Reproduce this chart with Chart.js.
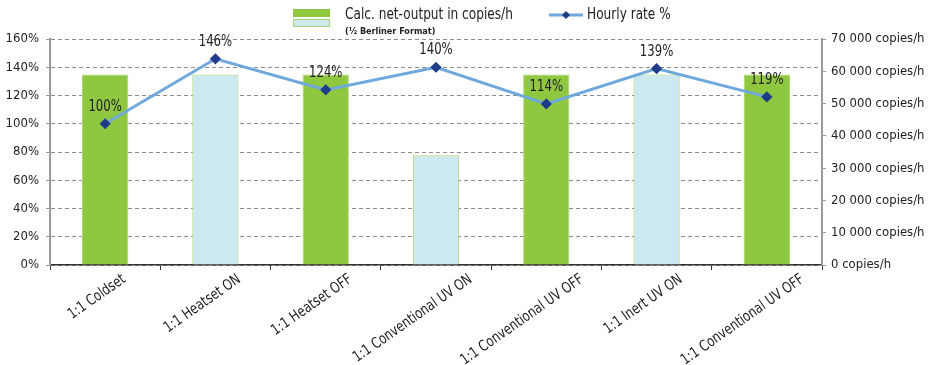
<!DOCTYPE html>
<html>
<head>
<meta charset="utf-8">
<script src="https://cdn.jsdelivr.net/npm/chart.js@4.4.0/dist/chart.umd.min.js"></script>
<style>
  html, body { margin: 0; padding: 0; background: #fff; }
  #wrap { width: 936px; height: 365px; }
</style>
</head>
<body>
<div id="wrap"><canvas id="myChart" width="936" height="365"></canvas></div>
<script>
// press configurations on the x axis
const categories = [
    '1:1 Coldset',
    '1:1 Heatset ON',
    '1:1 Heatset OFF',
    '1:1 Conventional UV ON',
    '1:1 Conventional UV OFF',
    '1:1 Inert UV ON',
    '1:1 Conventional UV OFF'
];
// net output per hour (right axis)
const netOutput = [59000, 59000, 59000, 34000, 59000, 59000, 59000];
// hourly rate relative to coldset (left axis)
const hourlyRate = [100, 146, 124, 140, 114, 139, 119];
const rateLabels = ['100%', '146%', '124%', '140%', '114%', '139%', '119%'];

const GREEN = '#8fc740';
const LIGHT = '#cce9ef';
const EDGE = '#a9d672';
const LINE = '#6fa8dc';
const DOT = '#1f3c88';
const FONT = "'Liberation Sans Narrow', 'DejaVu Sans Condensed', 'Arial Narrow', sans-serif";

const barColors = netOutput.map((v, i) => i % 2 === 0 ? GREEN : LIGHT);

function fmtCopies(v) {
    const s = String(v).replace(/\B(?=(\d{3})+(?!\d))/g, ' ');
    return s + ' copies/h';
}

// draws text slightly stretched vertically (condensed look)
function tallText(ctx, text, x, y) {
    ctx.save();
    ctx.translate(x, y);
    ctx.scale(1, 1.15);
    ctx.fillText(text, 0, 0);
    ctx.restore();
}

// legend drawn at the top: stacked swatches + line sample
const legendPlugin = {
    id: 'topLegend',
    afterDraw(chart) {
        const ctx = chart.ctx;
        ctx.save();
        ctx.fillStyle = GREEN;
        ctx.fillRect(293, 9, 37, 8);
        ctx.strokeStyle = EDGE;
        ctx.lineWidth = 1;
        ctx.fillStyle = LIGHT;
        ctx.fillRect(293.5, 19.5, 36, 7);
        ctx.strokeRect(293.5, 19.5, 36, 7);

        ctx.fillStyle = '#222';
        ctx.font = '13.5px ' + FONT;
        ctx.textBaseline = 'middle';
        ctx.textAlign = 'left';
        tallText(ctx, 'Calc. net-output in copies/h', 345, 15);
        ctx.font = 'bold 9px ' + FONT;
        ctx.fillText('(½ Berliner Format)', 345, 32);

        ctx.strokeStyle = LINE;
        ctx.lineWidth = 3;
        ctx.beginPath();
        ctx.moveTo(549, 15);
        ctx.lineTo(583, 15);
        ctx.stroke();
        ctx.fillStyle = DOT;
        ctx.beginPath();
        ctx.moveTo(566, 11);
        ctx.lineTo(570, 15);
        ctx.lineTo(566, 19);
        ctx.lineTo(562, 15);
        ctx.closePath();
        ctx.fill();

        ctx.fillStyle = '#222';
        ctx.font = '13.5px ' + FONT;
        tallText(ctx, 'Hourly rate %', 587, 15);
        ctx.restore();
    }
};

// percentage labels above the line points, and rotated category labels
const labelPlugin = {
    id: 'pointLabels',
    afterDatasetsDraw(chart) {
        const ctx = chart.ctx;
        const meta = chart.getDatasetMeta(1);
        ctx.save();
        ctx.fillStyle = '#222';
        ctx.font = '13px ' + FONT;
        ctx.textAlign = 'center';
        ctx.textBaseline = 'middle';
        meta.data.forEach((pt, i) => {
            tallText(ctx, rateLabels[i], pt.x, pt.y - 17);
        });

        // excel-style rotated labels: longer text slides further right
        const xScale = chart.scales.x;
        ctx.font = '13px ' + FONT;
        ctx.textAlign = 'right';
        ctx.textBaseline = 'middle';
        categories.forEach((c, i) => {
            const x = xScale.getPixelForValue(i);
            const w = ctx.measureText(c).width;
            ctx.save();
            ctx.translate(x + 5 + w * 0.21, 278);
            ctx.rotate(-35 * Math.PI / 180);
            ctx.scale(1, 1.15);
            ctx.fillText(c, 0, 0);
            ctx.restore();
        });
        ctx.restore();
    }
};

const ctx = document.getElementById('myChart').getContext('2d');

new Chart(ctx, {
    data: {
        labels: categories,
        datasets: [{
            type: 'bar',
            label: 'Calc. net-output in copies/h',
            data: netOutput,
            backgroundColor: barColors,
            borderColor: EDGE,
            borderWidth: 1,
            barPercentage: 0.42,
            categoryPercentage: 1,
            yAxisID: 'y1',
            order: 2
        }, {
            type: 'line',
            label: 'Hourly rate %',
            data: hourlyRate,
            borderColor: LINE,
            borderWidth: 3,
            pointStyle: 'rectRot',
            pointRadius: 3.5,
            pointBackgroundColor: DOT,
            pointBorderColor: DOT,
            tension: 0,
            fill: false,
            yAxisID: 'y',
            order: 1
        }]
    },
    options: {
        responsive: false,
        animation: false,
        layout: { padding: { top: 39, left: 0, right: 0, bottom: 0 } },
        plugins: {
            legend: { display: false },
            tooltip: { enabled: false }
        },
        scales: {
            x: {
                grid: {
                    drawOnChartArea: false,
                    drawTicks: true,
                    tickLength: 5,
                    color: '#333',
                    offset: true
                },
                border: { color: '#333', width: 1.5 },
                ticks: { color: 'rgba(0,0,0,0)', maxRotation: 35, minRotation: 35, font: { size: 13, family: FONT } },
                afterFit(scale) { scale.height = 100; }
            },
            y: {
                position: 'left',
                min: 0,
                max: 160,
                ticks: {
                    stepSize: 20,
                    color: '#222',
                    padding: 7,
                    font: { size: 13, family: FONT },
                    callback: v => v + '%'
                },
                grid: {
                    color: '#8c8c8c',
                    tickLength: 4,
                    tickBorderDash: [0],
                    tickColor: '#9a9a9a'
                },
                border: { color: '#9a9a9a', width: 2, dash: [4, 3] },
                afterFit(scale) { scale.width = 50; }
            },
            y1: {
                position: 'right',
                min: 0,
                max: 70000,
                ticks: {
                    stepSize: 10000,
                    color: '#222',
                    padding: 5,
                    font: { size: 13, family: FONT },
                    callback: v => fmtCopies(v)
                },
                grid: {
                    drawOnChartArea: false,
                    tickLength: 4,
                    color: '#9a9a9a'
                },
                border: { color: '#9a9a9a', width: 2 },
                afterFit(scale) { scale.width = 114; }
            }
        }
    },
    plugins: [legendPlugin, labelPlugin]
});
</script>
</body>
</html>
